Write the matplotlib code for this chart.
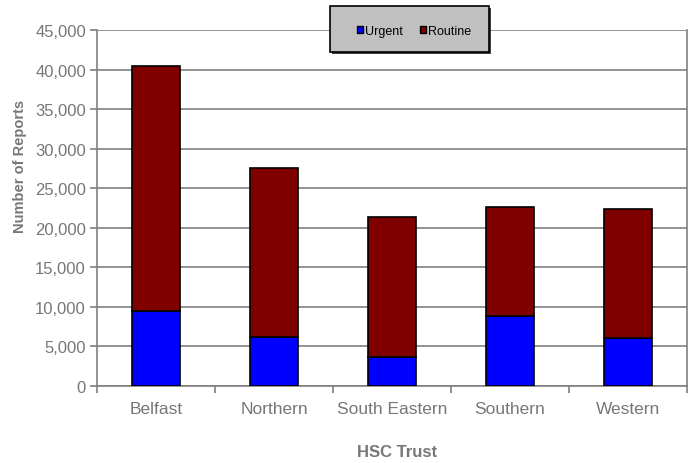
import matplotlib
matplotlib.use("Agg")
import matplotlib.pyplot as plt
from matplotlib.patches import Patch, Rectangle
from matplotlib.ticker import FuncFormatter, MultipleLocator
import numpy as np

plt.rcParams['font.family'] = ['Liberation Sans', 'DejaVu Sans']

trusts = ["Belfast", "Northern", "South Eastern", "Southern", "Western"]
urgent = [9500, 6200, 3700, 8900, 6100]
routine_total = [40400, 27600, 21400, 22600, 22400]
routine = [t - u for t, u in zip(routine_total, urgent)]

GRAY = "#808080"
TXT = "#777777"
W, H = 695, 464

fig = plt.figure(figsize=(W / 100, H / 100), dpi=100)
ax = fig.add_axes([97/W, 1-387/H, 590/W, 356/H])

x = np.arange(len(trusts))
w = 0.4
ax.bar(x, urgent, w, color="#0000ff", edgecolor="black", linewidth=1.2, zorder=3)
ax.bar(x, routine, w, bottom=urgent, color="#800000", edgecolor="black", linewidth=1.2, zorder=3)

ax.set_xlim(-0.5, len(trusts) - 0.5)
ax.set_ylim(0, 45000)
ax.yaxis.set_major_locator(MultipleLocator(5000))
ax.yaxis.set_major_formatter(FuncFormatter(lambda v, p: f"{int(v):,}"))
ax.grid(axis="y", color=GRAY, linewidth=1.2, zorder=0)

ax.set_xticks(x)
ax.set_xticklabels(trusts)
ax.tick_params(axis="x", which="major", length=0, labelsize=12.5, labelcolor=TXT, pad=11)
ax.set_xticks(np.arange(-0.5, len(trusts)), minor=True)
ax.tick_params(axis="x", which="minor", length=5, color=GRAY, width=1.2)
ax.tick_params(axis="y", length=5, color=GRAY, width=1.2, labelsize=12, labelcolor=TXT, pad=3)

for side in ["left", "right", "bottom"]:
    ax.spines[side].set_color(GRAY)
    ax.spines[side].set_linewidth(1.2)
ax.spines["top"].set_visible(False)

ax.set_ylabel("Number of Reports", fontsize=10.5, fontweight="bold", color=TXT)
ax.yaxis.set_label_coords((20 - 97) / 590, (387 - 166) / 356)
ax.yaxis.label.set_va("center")
ax.set_xlabel("HSC Trust", fontsize=12, fontweight="bold", color=TXT)
ax.xaxis.set_label_coords((397 - 97) / 590, (387 - 453) / 356)
ax.xaxis.label.set_va("center")

# legend box with a thin drop shadow, drawn on top of the plot area
bx0, bx1, by0, by1 = 330, 489, 7, 53
fig.patches.append(Rectangle(((bx0 + 2) / W, 1 - (by1 + 2) / H), (bx1 - bx0) / W, (by1 - by0) / H,
                             transform=fig.transFigure, facecolor="#404040", edgecolor="none", zorder=10))
fig.patches.append(Rectangle((bx0 / W, 1 - by1 / H), (bx1 - bx0) / W, (by1 - by0) / H,
                             transform=fig.transFigure, facecolor="#c0c0c0", edgecolor="black",
                             linewidth=1.2, zorder=11))

handles = [Patch(facecolor="#0000ff", edgecolor="black", linewidth=1.0),
           Patch(facecolor="#800000", edgecolor="black", linewidth=1.0)]
leg = fig.legend(handles, ["Urgent", "Routine"], loc="center",
                 bbox_to_anchor=(414/W, 1-32/H), ncol=2, fontsize=9,
                 frameon=False, handlelength=0.5, handleheight=0.5, handletextpad=0.15,
                 columnspacing=1.4, borderpad=0, borderaxespad=0)
leg.set_zorder(12)

fig.savefig("out.png", dpi=100)
